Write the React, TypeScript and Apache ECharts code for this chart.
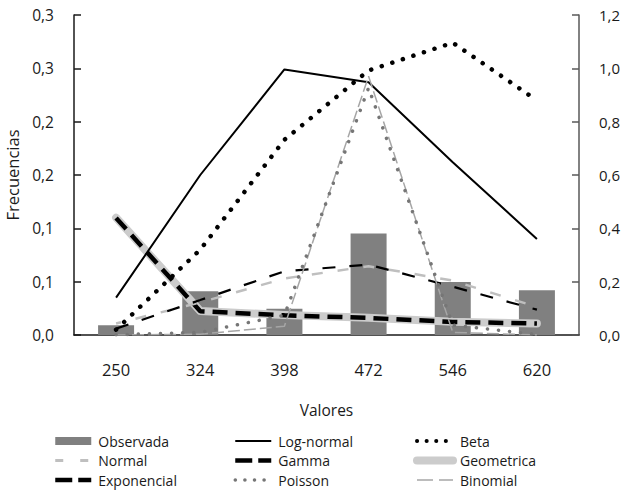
import React, { useEffect, useRef } from "react";
import * as echarts from "echarts";

// Class marks on the horizontal axis
const categories = ["250", "324", "398", "472", "546", "620"];

// Left axis (densities)
const logNormal = [0.035, 0.15, 0.249, 0.237, 0.162, 0.09];
const beta = [0.005, 0.08, 0.183, 0.248, 0.274, 0.22];

// Right axis (relative frequencies)
const observada = [0.037, 0.164, 0.098, 0.381, 0.199, 0.168];
const normal = [0.043, 0.122, 0.212, 0.258, 0.204, 0.105];
const gamma = [0.024, 0.131, 0.239, 0.264, 0.181, 0.095];
const geometrica = [0.44, 0.09, 0.075, 0.065, 0.05, 0.043];
const exponencial = [0.439, 0.089, 0.074, 0.064, 0.049, 0.043];
const poisson = [0.001, 0.01, 0.074, 0.927, 0.037, 0.002];
const binomial = [0.0, 0.003, 0.033, 0.97, 0.01, 0.0];

// Tick labels
const leftTickLabels = ["0,0", "0,1", "0,1", "0,2", "0,2", "0,3", "0,3"];
const rightTickLabels = ["0,0", "0,2", "0,4", "0,6", "0,8", "1,0", "1,2"];

const FONT = "'Open Sans', 'Noto Sans', sans-serif";
const TEXT = "#1a1a1a";
const NONE = "rgba(0,0,0,0)";

// Line looks of the plotted series
const styles: Record<string, Record<string, unknown>> = {
  Geometrica: { color: "#cccccc", width: 8, cap: "round", join: "round" },
  Exponencial: { color: "#000000", width: 4.5, type: [15, 8] },
  Normal: { color: "#bfbfbf", width: 2.5, type: [11, 15], dashOffset: 6 },
  Gamma: { color: "#000000", width: 2.2, type: [13, 14] },
  "Log-normal": { color: "#000000", width: 2 },
  Beta: { color: "#000000", width: 4.5, type: [0.1, 11], cap: "round" },
  Binomial: { color: "#a6a6a6", width: 1.5, type: [12, 4] },
  Poisson: { color: "#767676", width: 3.5, type: [0.1, 11], cap: "round" },
};

// Legend icon strokes
const legendIcons: Record<string, Record<string, unknown>> = {
  Normal: { color: "#bfbfbf", width: 3, type: [8, 17], dashOffset: 0 },
  Exponencial: { color: "#000000", width: 4.5, type: [17, 6] },
  Gamma: { color: "#000000", width: 4.5, type: [17, 6] },
  "Log-normal": { color: "#000000", width: 2 },
  Beta: { color: "#000000", width: 4, type: [0.1, 9.5], cap: "round" },
  Geometrica: { color: "#cccccc", width: 8, cap: "round" },
  Binomial: { color: "#a6a6a6", width: 1.5, type: [16, 6] },
  Poisson: { color: "#767676", width: 3.5, type: [0.1, 9.5], cap: "round" },
};

export default function App() {
  const ref = useRef<HTMLDivElement>(null);

  useEffect(() => {
    if (!ref.current) return;
    const chart = echarts.init(ref.current, undefined, { renderer: "svg" });

    const legendBase = {
      orient: "vertical" as const,
      top: 434,
      padding: 0,
      itemWidth: 36,
      itemHeight: 8,
      itemGap: 5.5,
      textStyle: { fontFamily: FONT, fontSize: 14, color: TEXT, padding: [0, 0, 0, 2] },
      selectedMode: false,
    };

    const legendItem = (name: string) => ({ name, lineStyle: legendIcons[name] });

    const lineSeries = (name: string, data: number[], yAxisIndex: number) => ({
      name,
      type: "line",
      yAxisIndex,
      data,
      symbol: "none",
      itemStyle: { color: NONE, borderColor: NONE },
      lineStyle: styles[name],
    });

    chart.setOption({
      animation: false,
      backgroundColor: "#ffffff",
      textStyle: { fontFamily: FONT },
      grid: {
        left: 74,
        right: 46,
        top: 15,
        bottom: 168,
        containLabel: false,
        outerBoundsMode: "none",
      },
      legend: [
        {
          ...legendBase,
          left: 53,
          data: [
            { name: "Observada", icon: "rect", itemStyle: { color: "#808080" } },
            legendItem("Normal"),
            legendItem("Exponencial"),
          ],
        },
        {
          ...legendBase,
          left: 233,
          data: [legendItem("Log-normal"), legendItem("Gamma"), legendItem("Poisson")],
        },
        {
          ...legendBase,
          left: 413,
          data: [legendItem("Beta"), legendItem("Geometrica"), legendItem("Binomial")],
        },
      ],
      xAxis: {
        type: "category",
        data: categories,
        name: "Valores",
        nameLocation: "middle",
        nameGap: 67,
        nameTextStyle: { fontFamily: FONT, fontSize: 15.5, color: TEXT },
        axisLine: { lineStyle: { color: "#1a1a1a", width: 1.5 } },
        axisTick: { inside: true, length: 6, lineStyle: { color: "#1a1a1a", width: 1.5 } },
        axisLabel: { margin: 26, fontFamily: FONT, fontSize: 16.5, color: TEXT },
        splitLine: { show: false },
      },
      yAxis: [
        {
          type: "value",
          min: 0,
          max: 0.3,
          interval: 0.05,
          position: "left",
          name: "Frecuencias",
          nameLocation: "middle",
          nameRotate: 90,
          nameGap: 49,
          nameTextStyle: { fontFamily: FONT, fontSize: 16.5, color: TEXT },
          axisLine: { show: true, lineStyle: { color: "#1a1a1a", width: 1.5 } },
          axisTick: { show: true, inside: true, length: 7, lineStyle: { color: "#1a1a1a", width: 1.5 } },
          axisLabel: {
            margin: 20,
            fontFamily: FONT,
            fontSize: 15.5,
            color: TEXT,
            formatter: (v: number) => leftTickLabels[Math.round(v / 0.05)] ?? "",
          },
          splitLine: { show: false },
        },
        {
          type: "value",
          min: 0,
          max: 1.2,
          interval: 0.2,
          position: "right",
          axisLine: { show: true, lineStyle: { color: "#595959", width: 1.5 } },
          axisTick: { show: true, inside: true, length: 7, lineStyle: { color: "#595959", width: 1.5 } },
          axisLabel: {
            margin: 20,
            fontFamily: FONT,
            fontSize: 15,
            color: TEXT,
            formatter: (v: number) => rightTickLabels[Math.round(v / 0.2)] ?? "",
          },
          splitLine: { show: false },
        },
      ],
      series: [
        {
          name: "Observada",
          type: "bar",
          yAxisIndex: 1,
          data: observada,
          barWidth: 36,
          itemStyle: { color: "#808080" },
        },
        lineSeries("Geometrica", geometrica, 1),
        lineSeries("Exponencial", exponencial, 1),
        lineSeries("Normal", normal, 1),
        lineSeries("Gamma", gamma, 1),
        lineSeries("Log-normal", logNormal, 0),
        lineSeries("Beta", beta, 0),
        lineSeries("Binomial", binomial, 1),
        lineSeries("Poisson", poisson, 1),
      ],
    });

    return () => chart.dispose();
  }, []);

  return (
    <div
      ref={ref}
      style={{ position: "absolute", left: 0, top: 0, width: 625, height: 503 }}
    />
  );
}
